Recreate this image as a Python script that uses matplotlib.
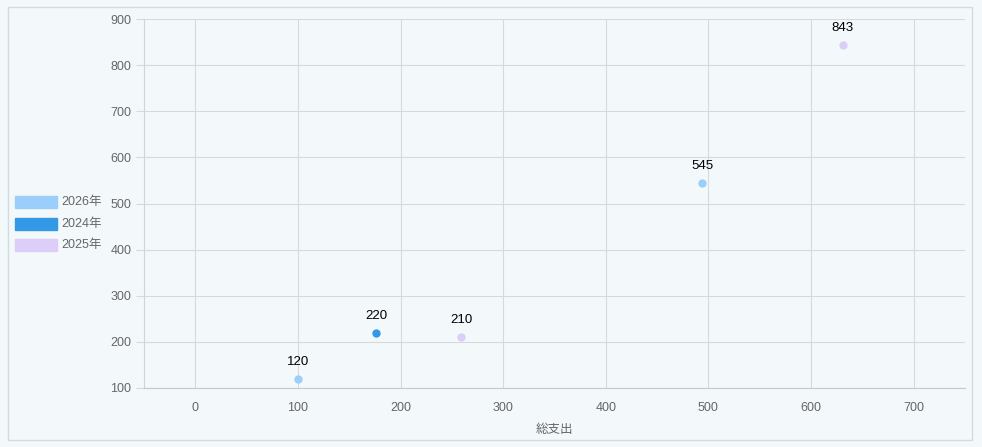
import matplotlib
matplotlib.use("Agg")
import matplotlib.pyplot as plt
from matplotlib.patches import Rectangle

plt.rcParams['font.family'] = ['Liberation Sans', 'Noto Sans CJK JP', 'DejaVu Sans']

# data
series_names = ["2026年", "2024年", "2025年"]
x_2026 = [100, 494]
y_2026 = [120, 545]
x_2024 = [176]
y_2024 = [220]
x_2025 = [259, 631]
y_2025 = [210, 843]
colors = ["#9ccefb", "#3399e6", "#ddcdf9"]

bg = "#f3f8fb"
fig = plt.figure(figsize=(9.82, 4.47), dpi=100)
fig.patch.set_facecolor(bg)
fig.patches.append(Rectangle((8 / 982, 7 / 447), 964 / 982, 433 / 447,
                             transform=fig.transFigure, fill=False,
                             edgecolor="#d0dbe3", linewidth=1))

ax = fig.add_axes([144 / 982, 1 - 388 / 447, 821 / 982, 369 / 447])
ax.set_facecolor(bg)

data = [(x_2026, y_2026), (x_2024, y_2024), (x_2025, y_2025)]
for (xs, ys), c in zip(data, colors):
    ax.scatter(xs, ys, s=36, color=c, zorder=3, linewidths=0)
    for xv, yv in zip(xs, ys):
        ax.annotate(str(yv), (xv, yv), xytext=(0, 8), textcoords="offset points",
                    ha="center", va="bottom", fontsize=9.5, color="black")

ax.set_xlim(-50, 750)
ax.set_ylim(100, 900)
ax.set_xticks(range(0, 701, 100))
ax.set_yticks(range(100, 901, 100))
ax.grid(True, color="#d6dadd", linewidth=0.8)
ax.set_axisbelow(True)
for s in ["top", "right"]:
    ax.spines[s].set_visible(False)
ax.spines["left"].set_color("#cfd4d8")
ax.spines["bottom"].set_color("#c4c9cd")
ax.tick_params(axis="y", length=6, color="#d6dadd", labelcolor="#666666", labelsize=9, pad=3)
ax.tick_params(axis="x", length=0, labelcolor="#666666", labelsize=9, pad=10)
ax.set_xlabel("総支出", color="#666666", fontsize=9, labelpad=7)

# legend on the left
for i, (name, c) in enumerate(zip(series_names, colors)):
    ytop = 196 + i * 21.5
    fig.patches.append(Rectangle((15 / 982, 1 - (ytop + 12) / 447), 42 / 982, 12 / 447,
                                 transform=fig.transFigure, facecolor=c,
                                 edgecolor=c, linewidth=1))
    fig.text(61 / 982, 1 - (ytop + 6) / 447, name, fontsize=9, color="#666666",
             va="center", ha="left")

fig.savefig("out.png", dpi=100, facecolor=bg)
